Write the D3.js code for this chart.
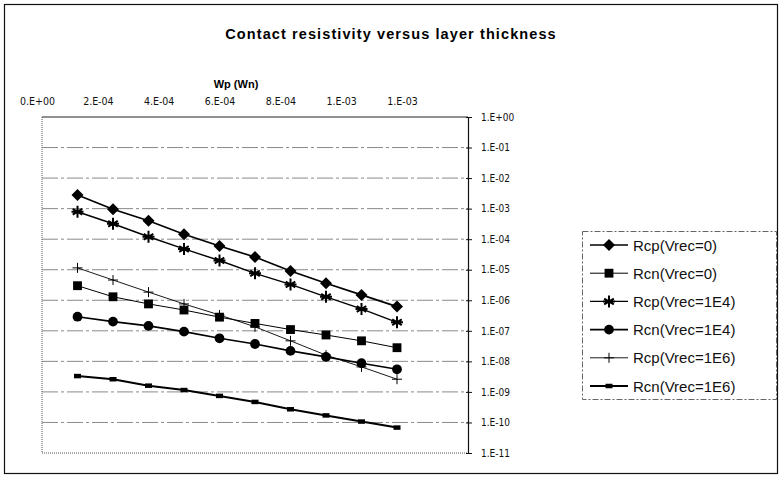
<!DOCTYPE html>
<html>
<head>
<meta charset="utf-8">
<script src="https://cdn.jsdelivr.net/npm/d3@7"></script>
<style>
  body { margin: 0; background: #fff; }
  svg { display: block; }
  .tick-font { font-family: "DejaVu Sans Condensed", "Liberation Sans Narrow", "Liberation Sans", sans-serif; font-stretch: condensed; }
</style>
</head>
<body>
<div id="chart"></div>
<script>
const width = 781;
const height = 479;

// x values (layer thickness)
const thickness = [1e-4, 2e-4, 3e-4, 4e-4, 5e-4, 6e-4, 7e-4, 8e-4, 9e-4, 1e-3];

// series values
const rcpV0 = [2.8e-3, 9.5e-4, 4.0e-4, 1.45e-4, 6.0e-5, 2.6e-5, 9.1e-6, 3.6e-6, 1.5e-6, 6.2e-7];
const rcnV0 = [3.0e-6, 1.3e-6, 7.6e-7, 4.8e-7, 2.8e-7, 1.75e-7, 1.1e-7, 7.3e-8, 4.7e-8, 2.8e-8];
const rcpV1E4 = [7.9e-4, 3.2e-4, 1.2e-4, 4.8e-5, 2.0e-5, 7.6e-6, 3.3e-6, 1.3e-6, 5.2e-7, 1.9e-7];
const rcnV1E4 = [2.9e-7, 2.0e-7, 1.45e-7, 9.4e-8, 5.7e-8, 3.7e-8, 2.2e-8, 1.4e-8, 8.7e-9, 5.5e-9];
const rcpV1E6 = [1.15e-5, 4.6e-6, 1.85e-6, 7.6e-7, 3.3e-7, 1.35e-7, 4.7e-8, 1.6e-8, 6.6e-9, 2.6e-9];
const rcnV1E6 = [3.3e-9, 2.6e-9, 1.6e-9, 1.15e-9, 7.4e-10, 4.7e-10, 2.7e-10, 1.7e-10, 1.07e-10, 6.8e-11];

const seriesNames = ["Rcp(Vrec=0)", "Rcn(Vrec=0)", "Rcp(Vrec=1E4)", "Rcn(Vrec=1E4)", "Rcp(Vrec=1E6)", "Rcn(Vrec=1E6)"];

// tick labels
const xTickValues = [0, 2e-4, 4e-4, 6e-4, 8e-4, 1e-3, 1.2e-3];
const xTickLabels = ["0.E+00", "2.E-04", "4.E-04", "6.E-04", "8.E-04", "1.E-03", "1.E-03"];
const yTickValues = [1, 1e-1, 1e-2, 1e-3, 1e-4, 1e-5, 1e-6, 1e-7, 1e-8, 1e-9, 1e-10, 1e-11];
const yTickLabels = ["1.E+00", "1.E-01", "1.E-02", "1.E-03", "1.E-04", "1.E-05", "1.E-06", "1.E-07", "1.E-08", "1.E-09", "1.E-10", "1.E-11"];

const plot = { left: 42, right: 468, top: 117, bottom: 453 };

const svg = d3.select("#chart")
  .append("svg")
  .attr("width", width)
  .attr("height", height);

// outer chart border
svg.append("rect")
  .attr("x", 4.5).attr("y", 4.5)
  .attr("width", 773).attr("height", 469)
  .attr("fill", "none")
  .attr("stroke", "#111")
  .attr("stroke-width", 1.2);

const x = d3.scaleLinear().domain([0, 1.2e-3]).range([plot.left, plot.right]);
const y = d3.scaleLog().domain([1e-11, 1]).range([plot.bottom, plot.top]);
// the printed labels of the top axis sit on a squeezed row
const xLabel = d3.scaleLinear().domain([0, 1.2e-3]).range([37, 402]);

// title
svg.append("text")
  .attr("x", 391).attr("y", 39)
  .attr("text-anchor", "middle")
  .style("font-family", "Liberation Sans, Arial, sans-serif")
  .style("font-weight", "bold")
  .style("font-size", "14.5px")
  .style("letter-spacing", "1.1px")
  .text("Contact resistivity versus layer thickness");

svg.append("text")
  .attr("x", 236).attr("y", 88)
  .attr("text-anchor", "middle")
  .style("font-family", "Liberation Sans, Arial, sans-serif")
  .style("font-weight", "bold")
  .style("font-size", "11px")
  .text("Wp (Wn)");

// gridlines
svg.append("g")
  .selectAll("line")
  .data(yTickValues.slice(1, -1))
  .join("line")
  .attr("x1", plot.left).attr("x2", plot.right)
  .attr("y1", (d) => y(d)).attr("y2", (d) => y(d))
  .attr("stroke", "#8a8a8a")
  .attr("stroke-width", 1)
  .attr("stroke-dasharray", "16,3,3,3");

// plot frame: dotted left and bottom, solid top
svg.append("path")
  .attr("d", `M${plot.left},${plot.top}V${plot.bottom}H${plot.right}`)
  .attr("fill", "none")
  .attr("stroke", "#555")
  .attr("stroke-dasharray", "1,1");
svg.append("line")
  .attr("x1", x(0)).attr("x2", x(1.2e-3))
  .attr("y1", plot.top).attr("y2", plot.top)
  .attr("stroke", "#222")
  .attr("stroke-width", 1.2);

// top x axis labels
const xAxis = d3.axisTop(xLabel)
  .tickValues(xTickValues)
  .tickSize(0)
  .tickPadding(0)
  .tickFormat((d, i) => xTickLabels[i]);
const gx = svg.append("g")
  .attr("transform", "translate(0,105)")
  .call(xAxis);
gx.select(".domain").remove();
gx.selectAll("text")
  .attr("class", "tick-font")
  .style("font-size", "10.5px")
  .attr("dy", "0")
  .attr("fill", "#111");

// right y axis
const yAxis = d3.axisRight(y)
  .tickValues(yTickValues)
  .tickSize(4)
  .tickPadding(9)
  .tickFormat((d, i) => yTickLabels[i]);
const gy = svg.append("g")
  .attr("transform", `translate(${plot.right},0)`)
  .call(yAxis);
gy.select(".domain").attr("stroke", "#111").attr("stroke-width", 1.2);
gy.selectAll("line").attr("stroke", "#111").attr("x1", -2);
gy.selectAll("text")
  .attr("class", "tick-font")
  .style("font-size", "10px")
  .attr("fill", "#111");

// marker painters
function plusPath(s) {
  return `M${-s},0H${s}M0,${-s}V${s}`;
}
function starPath(s) {
  const d = s * 0.8;
  return `M0,${-s}V${s}M${-d},${-d * 0.6}L${d},${d * 0.6}M${-d},${d * 0.6}L${d},${-d * 0.6}M${-s},0H${s}`;
}
function diamondPath(s) {
  return `M0,${-s}L${s},0L0,${s}L${-s},0Z`;
}

const styles = [
  { width: 1.7, marker: { type: "diamond", size: 6 } },
  { width: 1.0, marker: { type: "symbol", sym: d3.symbolSquare, size: 78 } },
  { width: 1.4, marker: { type: "star", size: 6 } },
  { width: 1.6, marker: { type: "symbol", sym: d3.symbolCircle, size: 75 } },
  { width: 0.9, marker: { type: "plus", size: 5 } },
  { width: 2.0, marker: { type: "rect", w: 7, h: 4.5 } }
];

const allSeries = [rcpV0, rcnV0, rcpV1E4, rcnV1E4, rcpV1E6, rcnV1E6];

function drawMarker(g, m) {
  if (m.type === "symbol") {
    g.append("path").attr("d", d3.symbol(m.sym, m.size)()).attr("fill", "#000");
  } else if (m.type === "diamond") {
    g.append("path").attr("d", diamondPath(m.size)).attr("fill", "#000");
  } else if (m.type === "star") {
    g.append("path").attr("d", starPath(m.size)).attr("stroke", "#000").attr("stroke-width", 2).attr("fill", "none");
  } else if (m.type === "plus") {
    g.append("path").attr("d", plusPath(m.size)).attr("stroke", "#000").attr("stroke-width", 1).attr("fill", "none");
  } else if (m.type === "rect") {
    g.append("rect").attr("x", -m.w / 2).attr("y", -m.h / 2).attr("width", m.w).attr("height", m.h).attr("fill", "#000");
  }
}

const line = d3.line()
  .x((d) => x(d[0]))
  .y((d) => y(d[1]));

const series = svg.append("g");
allSeries.forEach((vals, k) => {
  const pts = thickness.map((t, i) => [t, vals[i]]);
  const g = series.append("g");
  g.append("path")
    .datum(pts)
    .attr("d", line)
    .attr("fill", "none")
    .attr("stroke", "#000")
    .attr("stroke-width", styles[k].width);
  pts.forEach((p) => {
    const mg = g.append("g").attr("transform", `translate(${x(p[0])},${y(p[1])})`);
    drawMarker(mg, styles[k].marker);
  });
});

// legend
const legend = svg.append("g").attr("transform", "translate(582,231)");
legend.append("rect")
  .attr("x", 0.5).attr("y", 0.5)
  .attr("width", 194).attr("height", 168)
  .attr("fill", "#fff")
  .attr("stroke", "#666")
  .attr("stroke-dasharray", "6,2,2,2");

const legendY = d3.scalePoint().domain(seriesNames).range([14, 155]);
seriesNames.forEach((name, k) => {
  const row = legend.append("g").attr("transform", `translate(0,${legendY(name)})`);
  row.append("line")
    .attr("x1", 8).attr("x2", 46)
    .attr("stroke", "#000")
    .attr("stroke-width", styles[k].width);
  const mg = row.append("g").attr("transform", "translate(27,0)");
  drawMarker(mg, styles[k].marker);
  row.append("text")
    .attr("x", 51).attr("y", 5.5)
    .style("font-family", "Liberation Sans, Arial, sans-serif")
    .style("font-size", "15px")
    .attr("fill", "#111")
    .text(name);
});
</script>
</body>
</html>
